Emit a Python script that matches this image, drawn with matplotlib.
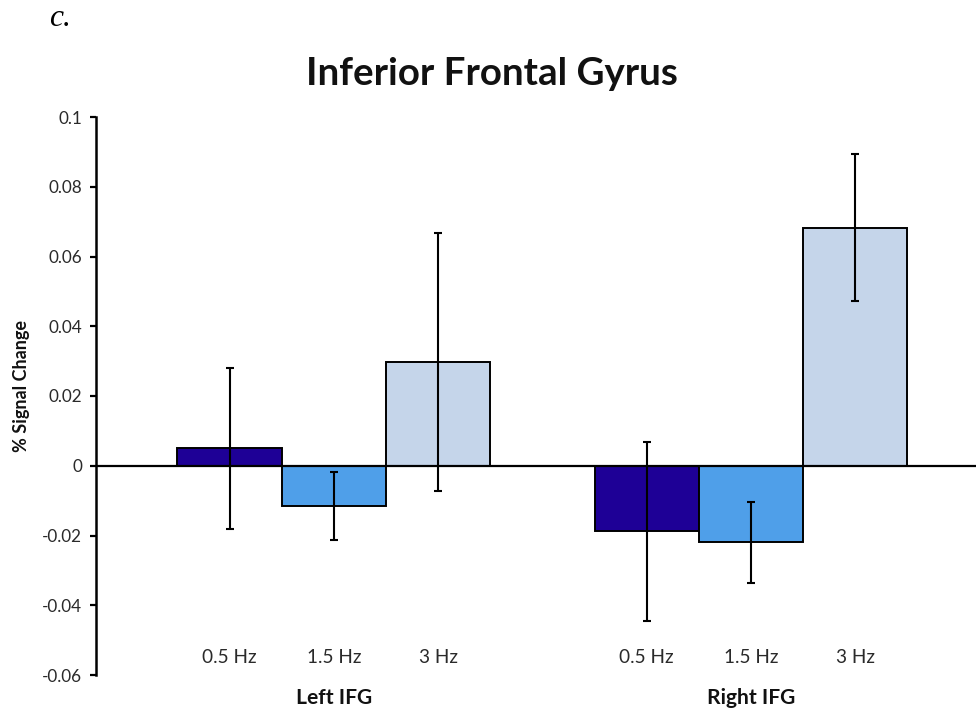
import matplotlib
matplotlib.use("Agg")
import matplotlib.pyplot as plt
from matplotlib.transforms import blended_transform_factory

plt.rcParams['font.family'] = ['Lato', 'DejaVu Sans']

regions = ["Left IFG", "Right IFG"]
freqs = ["0.5 Hz", "1.5 Hz", "3 Hz"]
left_vals = [0.005, -0.0115, 0.0297]
left_err = [0.023, 0.0098, 0.037]
right_vals = [-0.0188, -0.022, 0.0683]
right_err = [0.0257, 0.0115, 0.021]
colors = ["#1e0096", "#4f9fe9", "#c5d5ea"]
yticks = [-0.06, -0.04, -0.02, 0, 0.02, 0.04, 0.06, 0.08, 0.1]
ytick_labels = ["-0.06", "-0.04", "-0.02", "0", "0.02", "0.04", "0.06", "0.08", "0.1"]

W, H = 976, 712
fig = plt.figure(figsize=(W / 100, H / 100), dpi=100)
ax = fig.add_axes([96 / W, 1 - 675 / H, 880 / W, 558 / H])

group_starts = [1, 5]
all_vals = [left_vals, right_vals]
all_errs = [left_err, right_err]
trans = blended_transform_factory(ax.transData, ax.transAxes)
freq_texts, region_texts = [], []
for g, start in enumerate(group_starts):
    for i in range(3):
        x = start + i
        ax.bar(x, all_vals[g][i], width=1.0, color=colors[i], edgecolor="black",
               linewidth=1.4, zorder=2)
        ax.errorbar(x, all_vals[g][i], yerr=all_errs[g][i], fmt="none",
                    ecolor="black", elinewidth=1.5, capsize=3, capthick=1.5, zorder=3)
        freq_texts.append(ax.text(x, 0.032, freqs[i], transform=trans, ha="center",
                                  va="center", fontsize=12, color="#2a2a2a"))
    region_texts.append(ax.text(start + 1, -0.041, regions[g], transform=trans,
                                ha="center", va="center", fontsize=15,
                                fontweight="bold", color="#111111"))

ax.axhline(0, color="black", linewidth=1.6, zorder=4)
ax.set_xlim(-0.28, 8.157)
ax.set_ylim(-0.06, 0.1)
ax.set_yticks(yticks)
ax.set_yticklabels(ytick_labels, fontsize=11, color="#2a2a2a")
ax.set_xticks([])
for s in ["top", "right", "bottom"]:
    ax.spines[s].set_visible(False)
ax.spines["left"].set_linewidth(1.8)
ax.tick_params(axis="y", direction="out", length=4, width=1.6, pad=6)

ylab = fig.text(22 / W, 1 - 386 / H, "% Signal Change", ha="center", va="center",
                rotation=90, fontsize=13, fontweight="bold", color="#111111")
title = fig.text(492 / W, 1 - 74 / H, "Inferior Frontal Gyrus", ha="center",
                 va="center", fontsize=24, fontweight="bold", color="#111111")
clabel = fig.text(49 / W, 1 - 19 / H, "c.", ha="left", va="center", fontsize=18,
                  family="Liberation Serif", style="italic")

# size text so its rendered extent matches the reference
fig.canvas.draw()
r = fig.canvas.get_renderer()

def fit(t, target, dim="w"):
    bb = t.get_window_extent(r)
    cur = bb.width if dim == "w" else bb.height
    t.set_fontsize(t.get_fontsize() * target / cur)

fit(title, 371)
fit(ylab, 132, "h")
fit(clabel, 22)
fit(freq_texts[0], 54)
for t in freq_texts[1:]:
    t.set_fontsize(freq_texts[0].get_fontsize())
fit(region_texts[0], 76)
region_texts[1].set_fontsize(region_texts[0].get_fontsize())
lab = [t for t in ax.get_yticklabels() if t.get_text() == "0.08"][0]
w = lab.get_window_extent(r).width
ax.set_yticklabels(ytick_labels, fontsize=11 * 34 / w, color="#2a2a2a")

fig.savefig("out.png", dpi=100)
